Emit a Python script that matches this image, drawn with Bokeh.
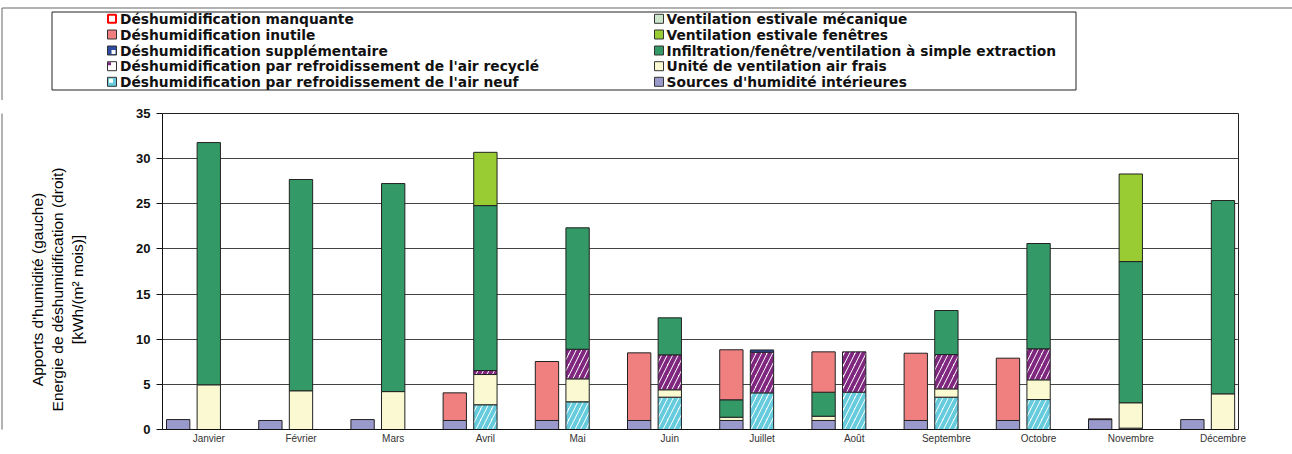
import math
from bokeh.plotting import figure
from bokeh.models import Range1d, FixedTicker, ColumnDataSource
from bokeh.layouts import column, row
from bokeh.embed import file_html
from bokeh.resources import INLINE
from bokeh.core.properties import value

FONT = "Liberation Sans"
LEG_FONT = "DejaVu Sans"

months = ["Janvier", "Février", "Mars", "Avril", "Mai", "Juin", "Juillet",
          "Août", "Septembre", "Octobre", "Novembre", "Décembre"]

# ---- left bar of each month (kWh/(m² mois)) ----
sources_L        = [1.1, 1.0, 1.1, 1.0, 1.0, 1.0, 1.0, 1.0, 1.0, 1.0, 1.1, 1.1]
air_neuf_L       = [0] * 12
unite_L          = [0, 0, 0, 0, 0, 0, 0.36, 0.47, 0, 0, 0, 0]
air_recycle_L    = [0] * 12
supplementaire_L = [0] * 12
infiltration_L   = [0, 0, 0, 0, 0, 0, 1.93, 2.66, 0, 0, 0, 0]
fenetres_L       = [0] * 12
mecanique_L      = [0] * 12
inutile_L        = [0, 0, 0, 3.06, 6.53, 7.49, 5.54, 4.47, 7.45, 6.9, 0.08, 0]
manquante_L      = [0] * 12

# ---- right bar of each month ----
sources_R        = [0] * 12
air_neuf_R       = [0, 0, 0, 2.74, 3.07, 3.58, 4.06, 4.13, 3.58, 3.32, 0.15, 0]
unite_R          = [4.95, 4.29, 4.2, 3.35, 2.54, 0.82, 0, 0, 0.92, 2.18, 2.81, 3.95]
air_recycle_R    = [0, 0, 0, 0.44, 3.28, 3.87, 4.5, 4.47, 3.8, 3.44, 0, 0]
supplementaire_R = [0, 0, 0, 0, 0, 0, 0.25, 0, 0, 0, 0, 0]
infiltration_R   = [26.83, 23.4, 23.04, 18.27, 13.45, 4.1, 0, 0, 4.88, 11.66, 15.64, 21.41]
fenetres_R       = [0, 0, 0, 5.9, 0, 0, 0, 0, 0, 0, 9.7, 0]
mecanique_R      = [0] * 12
inutile_R        = [0] * 12
manquante_R      = [0] * 12

y_ticks = [0, 5, 10, 15, 20, 25, 30, 35]

# stacking order (bottom -> top) with styles
series = [
    ("Sources d'humidité intérieures", sources_L, sources_R,
     dict(fill_color="#9999CC")),
    ("Déshumidification par refroidissement de l'air neuf", air_neuf_L, air_neuf_R,
     dict(fill_color="white", hatch_pattern="/", hatch_color="#66CCDD", hatch_weight=4, hatch_scale=11)),
    ("Unité de ventilation air frais", unite_L, unite_R,
     dict(fill_color="#FBF9D2")),
    ("Déshumidification par refroidissement de l'air recyclé", air_recycle_L, air_recycle_R,
     dict(fill_color="white", hatch_pattern="/", hatch_color="#7F267F", hatch_weight=4, hatch_scale=11)),
    ("Déshumidification supplémentaire", supplementaire_L, supplementaire_R,
     dict(fill_color="#2E4C9E")),
    ("Infiltration/fenêtre/ventilation à simple extraction", infiltration_L, infiltration_R,
     dict(fill_color="#339966")),
    ("Ventilation estivale fenêtres", fenetres_L, fenetres_R,
     dict(fill_color="#99CC33")),
    ("Ventilation estivale mécanique", mecanique_L, mecanique_R,
     dict(fill_color="#CCE6CC")),
    ("Déshumidification inutile", inutile_L, inutile_R,
     dict(fill_color="#F08080")),
    ("Déshumidification manquante", manquante_L, manquante_R,
     dict(fill_color="white", line_color="#FF0000")),
]

# ---------------- main chart ----------------
PX_PER_MONTH = 92.2
FRAME_W = 1076
x_start = -0.502
x_end = x_start + FRAME_W / PX_PER_MONTH
BAR_W = 0.253
LEFT_OFF = -0.332
B_TOP, B_BOT = 13, 25

main = figure(width=1164, height=354, output_backend="svg", toolbar_location=None,
              x_range=Range1d(x_start, x_end), y_range=Range1d(0, 35),
              min_border_left=34, min_border_right=54, min_border_top=B_TOP, min_border_bottom=B_BOT,
              background_fill_color="white", border_fill_color="white")
main.outline_line_color = "#222222"
main.outline_line_width = 1

for side, offset in (("L", LEFT_OFF), ("R", 0.0)):
    cum = [0.0] * 12
    for name, vl, vr, style in series:
        vals = vl if side == "L" else vr
        xs, bots, tops = [], [], []
        for i, v in enumerate(vals):
            if v > 0:
                xs.append(i + offset)
                bots.append(cum[i])
                tops.append(cum[i] + v)
                cum[i] += v
        if not xs:
            continue
        src = ColumnDataSource(dict(x=xs, bottom=bots, top=tops))
        kw = dict(line_color="#222222", line_width=1)
        kw.update(style)
        main.vbar(x="x", bottom="bottom", top="top", width=BAR_W, source=src, **kw)

main.xgrid.visible = False
main.ygrid.ticker = FixedTicker(ticks=y_ticks)
main.ygrid.grid_line_color = "#444444"
main.ygrid.grid_line_width = 1
main.ygrid.level = "underlay"

ya = main.yaxis[0]
ya.ticker = FixedTicker(ticks=y_ticks)
ya.major_tick_out = 6
ya.major_tick_in = 0
ya.minor_tick_line_color = None
ya.axis_line_color = "#111111"
ya.major_tick_line_color = "#111111"
ya.major_label_text_font = FONT
ya.major_label_text_font_style = "bold"
ya.major_label_text_font_size = "13px"
ya.major_label_text_color = "#111111"
ya.major_label_standoff = 6

xa = main.xaxis[0]
xa.ticker = FixedTicker(ticks=list(range(12)))
xa.major_label_overrides = {i: m for i, m in enumerate(months)}
xa.major_tick_line_color = None
xa.major_tick_out = 0
xa.major_tick_in = 0
xa.minor_tick_line_color = None
xa.axis_line_color = "#111111"
xa.major_label_text_font = FONT
xa.major_label_text_font_size = "10px"
xa.major_label_text_color = "#333333"
xa.major_label_standoff = 3

# ---------------- y title panel (local y = 454 - page y) ----------------
left = figure(width=128, height=354, output_backend="svg", toolbar_location=None,
              x_range=Range1d(0, 128), y_range=Range1d(B_BOT, 354 - B_TOP),
              x_axis_type=None, y_axis_type=None,
              min_border_left=0, min_border_right=0, min_border_top=B_TOP, min_border_bottom=B_BOT,
              background_fill_color="white", border_fill_color="white")
left.outline_line_color = None
left.grid.visible = False
title_lines = ["Apports d'humidité (gauche)",
               "Energie de déshumidification (droit)",
               "[kWh/(m² mois)]"]
left.text(x=[37, 57, 77], y=[165, 165, 165], text=title_lines, angle=math.pi / 2,
          text_align="center", text_baseline="middle", text_font=value(FONT),
          text_font_size="15.5px", text_color="#000000")
left.segment(x0=[1.5], y0=[0], x1=[1.5], y1=[354], line_color="#666666", line_width=1)

# ---------------- legend panel (local y = 100 - page y) ----------------
leg = figure(width=1292, height=100, output_backend="svg", toolbar_location=None,
             x_range=Range1d(0, 1292), y_range=Range1d(0, 100),
             x_axis_type=None, y_axis_type=None, min_border=0,
             background_fill_color="white", border_fill_color="white")
leg.outline_line_color = None
leg.grid.visible = False
leg.segment(x0=[1.5, 1.5], y0=[92.5, 0], x1=[1292, 1.5], y1=[92.5, 92.5],
            line_color="#666666", line_width=1)
leg.quad(left=[51.5], right=[1075.5], bottom=[10.5], top=[88.5],
         fill_color=None, line_color="#222222", line_width=1)

row_y = [81.7, 66, 50, 34.3, 18.7]
left_col = [9, 8, 4, 3, 1]   # manquante, inutile, supplémentaire, recyclé, neuf
right_col = [7, 6, 5, 2, 0]  # mécanique, fenêtres, infiltration, unité, sources
SW = 9
for col_items, sx, tx in ((left_col, 111.5, 119.5), (right_col, 658.5, 666)):
    for idx, yy in zip(col_items, row_y):
        name, _, _, style = series[idx]
        fill = style.get("fill_color")
        lc = style.get("line_color", "#333333")
        lw = 2 if idx == 9 else 1
        if "hatch_color" in style:
            hc = style["hatch_color"]
            if idx == 1:
                leg.rect(x=[sx], y=[yy], width=SW, height=SW, fill_color=hc, line_color="#333333")
                leg.rect(x=[sx - 1], y=[yy + 1], width=4, height=4, fill_color="white", line_color=None)
            else:
                leg.rect(x=[sx], y=[yy], width=SW, height=SW, fill_color="white", line_color="#333333")
                leg.rect(x=[sx - 2.5], y=[yy + 2.5], width=3, height=3, fill_color=hc, line_color=None)
        elif idx == 4:
            leg.rect(x=[sx], y=[yy], width=SW, height=SW, fill_color=fill, line_color="#333333")
            leg.rect(x=[sx + 1.5], y=[yy - 1.5], width=4, height=4, fill_color="white", line_color=None)
        else:
            leg.rect(x=[sx], y=[yy], width=SW - (1 if lw == 2 else 0), height=SW - (1 if lw == 2 else 0),
                     fill_color=fill, line_color=lc, line_width=lw)
        leg.text(x=[tx], y=[yy], text=[name], text_align="left", text_baseline="middle",
                 text_font=value(LEG_FONT), text_font_style="bold", text_font_size="13.8px",
                 text_color="#111111")

layout = column(leg, row(left, main))
open("out.html", "w").write(file_html(layout, INLINE))
